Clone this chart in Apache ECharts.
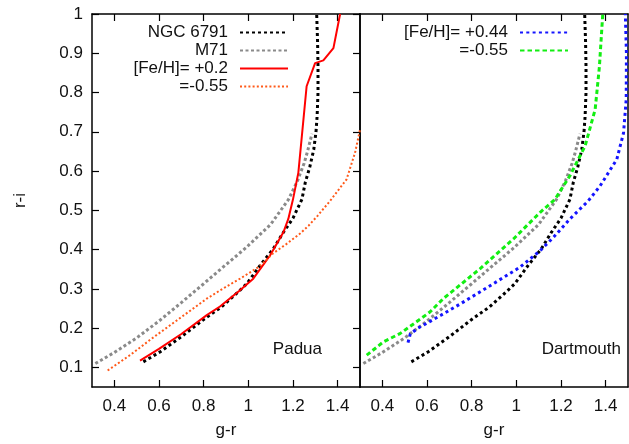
<!DOCTYPE html>
<html>
<head>
<meta charset="utf-8">
<script src="https://cdn.jsdelivr.net/npm/echarts@6/dist/echarts.min.js"></script>
<style>html,body{margin:0;padding:0;background:#fff}#c{width:629px;height:444px}</style>
</head>
<body>
<div id="c"></div>
<script>
// ---- tick labels ----
const xTicks = [0.4, 0.6, 0.8, 1.0, 1.2, 1.4];
const yTicks = [0.1, 0.2, 0.3, 0.4, 0.5, 0.6, 0.7, 0.8, 0.9, 1.0];

// ---- NGC 6791 (observed, both panels) ----
const ngcX = [0.53, 0.606, 0.7, 0.8, 0.88, 0.96, 0.993, 1.052, 1.112, 1.157, 1.2, 1.24, 1.255, 1.275, 1.293, 1.303, 1.308, 1.312, 1.312, 1.31, 1.306];
const ngcY = [0.114, 0.14, 0.178, 0.222, 0.254, 0.295, 0.313, 0.359, 0.402, 0.444, 0.48, 0.528, 0.571, 0.61, 0.655, 0.7, 0.74, 0.8, 0.866, 0.93, 1.0];

// ---- M71 (observed, both panels) ----
const m71X = [0.315, 0.4, 0.5, 0.6, 0.7, 0.8, 0.88, 0.99, 1.1, 1.18, 1.22, 1.25, 1.265, 1.285];
const m71Y = [0.11, 0.138, 0.175, 0.218, 0.265, 0.313, 0.352, 0.405, 0.464, 0.528, 0.575, 0.62, 0.65, 0.695];

// ---- Padua [Fe/H]=+0.2 ----
const padHiX = [0.515, 0.6, 0.7, 0.814, 0.873, 0.96, 1.022, 1.097, 1.157, 1.179, 1.2, 1.224, 1.261, 1.299, 1.336, 1.381, 1.411];
const padHiY = [0.117, 0.147, 0.185, 0.233, 0.255, 0.295, 0.326, 0.385, 0.444, 0.478, 0.528, 0.596, 0.816, 0.875, 0.882, 0.913, 1.0];

// ---- Padua [Fe/H]=-0.55 ----
const padLoX = [0.37, 0.47, 0.567, 0.7, 0.814, 0.873, 0.963, 1.05, 1.11, 1.17, 1.23, 1.27, 1.31, 1.366, 1.44, 1.478, 1.5];
const padLoY = [0.092, 0.131, 0.173, 0.228, 0.275, 0.296, 0.326, 0.357, 0.39, 0.414, 0.44, 0.461, 0.486, 0.524, 0.579, 0.647, 0.705];

// ---- Dartmouth [Fe/H]=+0.44 ----
const darHiX = [0.515, 0.525, 0.56, 0.66, 0.75, 0.84, 1.016, 1.106, 1.166, 1.24, 1.322, 1.375, 1.45, 1.48, 1.492, 1.493, 1.488];
const darHiY = [0.163, 0.185, 0.2, 0.232, 0.262, 0.293, 0.355, 0.397, 0.431, 0.478, 0.524, 0.562, 0.63, 0.697, 0.782, 0.9, 1.0];

// ---- Dartmouth [Fe/H]=-0.55 ----
const darLoX = [0.33, 0.405, 0.479, 0.553, 0.613, 0.673, 0.837, 0.987, 1.107, 1.173, 1.24, 1.308, 1.353, 1.372, 1.387];
const darLoY = [0.131, 0.165, 0.186, 0.216, 0.241, 0.275, 0.351, 0.427, 0.495, 0.528, 0.588, 0.664, 0.757, 0.866, 1.0];

const legendNames = {
  ngcL: 'NGC 6791', m71L: 'M71', padHi: '[Fe/H]= +0.2', padLo: '=-0.55',
  darHi: '[Fe/H]= +0.44', darLo: '=-0.55'
};

function pairs(xs, ys) { return xs.map((x, i) => [x, ys[i]]); }

const FONT = "'Liberation Sans', Arial, sans-serif";
const FS = 17;
const TXT = '#111';

function xAxisBottom(gi, name) {
  return {
    type: 'value', gridIndex: gi, min: 0.3, max: 1.5, position: 'bottom',
    name: name, nameLocation: 'middle', nameGap: 35,
    nameTextStyle: { fontFamily: FONT, fontSize: FS, color: TXT },
    axisLine: { show: true, onZero: false, lineStyle: { color: '#000', width: 1.5 } },
    axisTick: { show: true, inside: true, length: 7, customValues: xTicks, lineStyle: { color: '#000', width: 1.2 } },
    axisLabel: { show: true, customValues: xTicks, margin: 11, fontFamily: FONT, fontSize: FS, color: TXT,
      formatter: v => String(+v.toFixed(2)) },
    splitLine: { show: false }
  };
}
function xAxisTop(gi) {
  return {
    type: 'value', gridIndex: gi, min: 0.3, max: 1.5, position: 'top',
    axisLine: { show: true, onZero: false, lineStyle: { color: '#000', width: 1.5 } },
    axisTick: { show: true, inside: true, length: 7, customValues: xTicks, lineStyle: { color: '#000', width: 1.2 } },
    axisLabel: { show: false }, splitLine: { show: false }
  };
}
function yAxis(gi, pos, ticks, labels, name) {
  return {
    type: 'value', gridIndex: gi, min: 0.05, max: 1, position: pos,
    name: name || '', nameLocation: 'middle', nameGap: 63,
    nameTextStyle: { fontFamily: FONT, fontSize: FS, color: TXT },
    axisLine: { show: true, onZero: false, lineStyle: { color: '#000', width: 1.5 } },
    axisTick: { show: ticks, inside: true, length: 7, customValues: yTicks, lineStyle: { color: '#000', width: 1.2 } },
    axisLabel: { show: labels, customValues: yTicks, margin: 9, fontFamily: FONT, fontSize: FS, color: TXT,
      formatter: v => String(+v.toFixed(2)) },
    splitLine: { show: false }
  };
}

function line(id, xs, ys, gi, color, width, type) {
  return {
    type: 'line', name: id, xAxisIndex: gi * 2, yAxisIndex: gi * 2,
    data: pairs(xs, ys), symbol: 'none', showSymbol: false, smooth: false,
    clip: true, animation: false, silent: true,
    lineStyle: { color: color, width: width, type: type, cap: 'butt' },
    itemStyle: { color: color }
  };
}

function legend(names, right) {
  return {
    data: names, orient: 'vertical', align: 'right',
    right: right, top: 19, itemWidth: 48, itemHeight: 14, itemGap: 1, selectedMode: false,
    formatter: n => legendNames[n],
    itemStyle: { opacity: 0 },
    textStyle: { fontFamily: FONT, fontSize: FS, color: TXT, padding: [0, 7, 0, 0] }
  };
}

const option = {
  backgroundColor: '#fff',
  animation: false,
  grid: [
    { left: 92, top: 14, width: 268, height: 374 },
    { left: 360, top: 14, width: 268, height: 374 }
  ],
  xAxis: [xAxisBottom(0, 'g-r'), xAxisTop(0), xAxisBottom(1, 'g-r'), xAxisTop(1)],
  yAxis: [yAxis(0, 'left', true, true, 'r-i'), yAxis(0, 'right', true, false),
          yAxis(1, 'left', false, false), yAxis(1, 'right', false, false)],
  legend: [
    legend(['ngcL', 'm71L', 'padHi', 'padLo'], 335),
    legend(['darHi', 'darLo'], 55)
  ],
  graphic: [
    { type: 'text', x: 322, y: 349, silent: true,
      style: { text: 'Padua', align: 'right', verticalAlign: 'middle', font: FS + 'px ' + FONT, fill: TXT } },
    { type: 'text', x: 621, y: 349, silent: true,
      style: { text: 'Dartmouth', align: 'right', verticalAlign: 'middle', font: FS + 'px ' + FONT, fill: TXT } }
  ],
  series: [
    line('ngcL', ngcX, ngcY, 0, '#000000', 3, [3, 3]),
    line('m71L', m71X, m71Y, 0, '#8a8a8a', 3, [3, 2.5]),
    line('padHi', padHiX, padHiY, 0, '#ff0000', 2, 'solid'),
    line('padLo', padLoX, padLoY, 0, '#ff5a1a', 2, [2, 2.2]),
    line('ngcR', ngcX, ngcY, 1, '#000000', 3, [3, 3]),
    line('m71R', m71X, m71Y, 1, '#8a8a8a', 3, [3, 2.5]),
    line('darHi', darHiX, darHiY, 1, '#1414ff', 3, [3, 3.3]),
    line('darLo', darLoX, darLoY, 1, '#12ee12', 3, [4.5, 3])
  ]
};

const chart = echarts.init(document.getElementById('c'), null, { renderer: 'canvas' });
chart.setOption(option);
</script>
</body>
</html>
